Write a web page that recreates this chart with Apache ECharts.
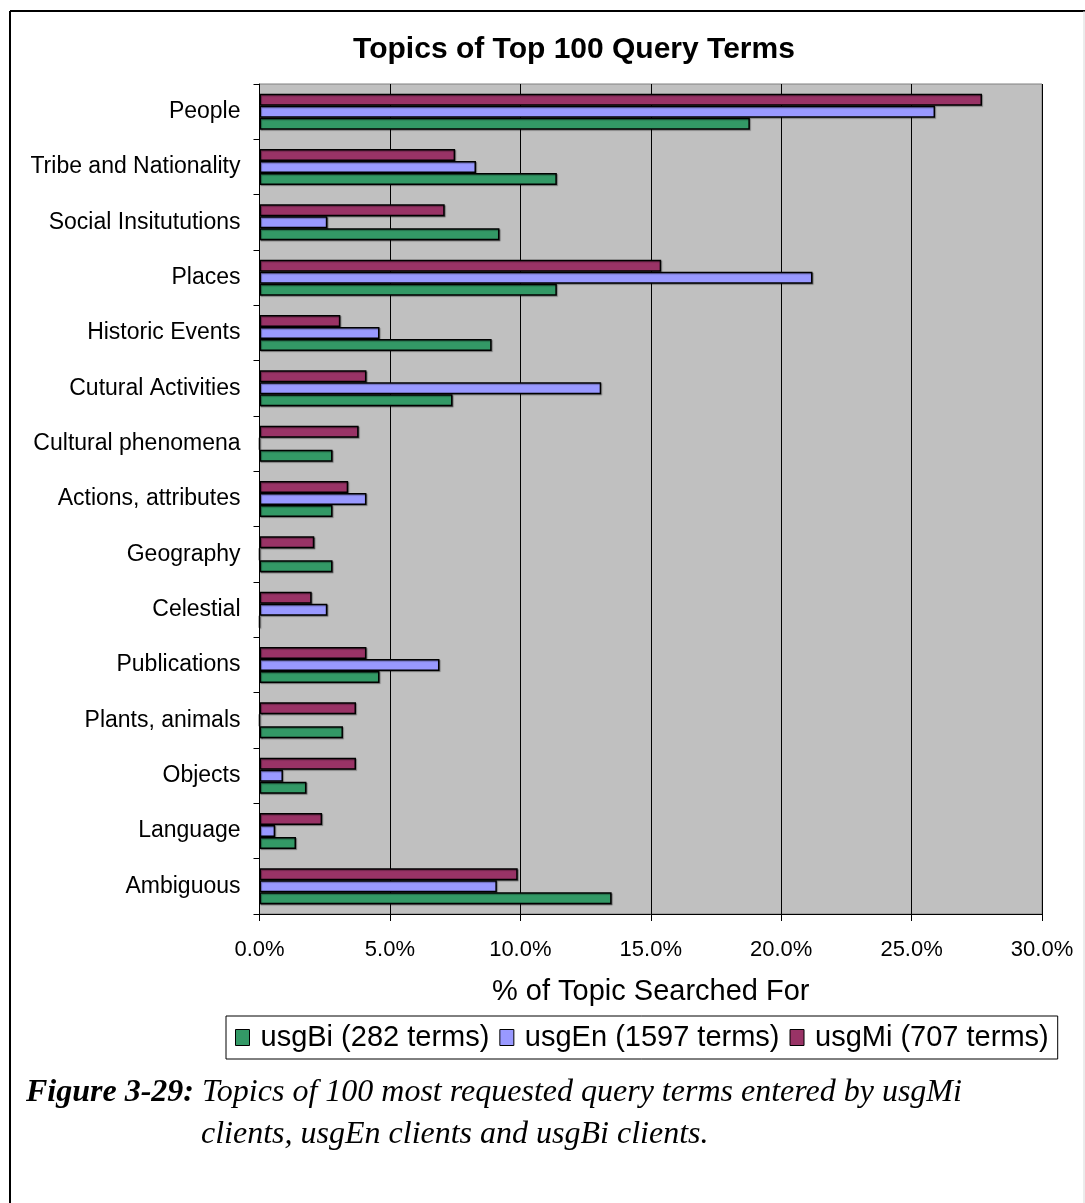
<!DOCTYPE html>
<html>
<head>
<meta charset="utf-8">
<title>Topics of Top 100 Query Terms</title>
<script src="https://cdn.jsdelivr.net/npm/echarts@6/dist/echarts.min.js"></script>
<style>
  html, body { margin: 0; padding: 0; background: #ffffff; }
  #main { width: 1085px; height: 1203px; }
</style>
</head>
<body>
<div id="main"></div>
<script>
// categories top to bottom, as in the figure
var topics = ['People', 'Tribe and Nationality', 'Social Insitututions', 'Places', 'Historic Events',
  'Cutural Activities', 'Cultural phenomena', 'Actions, attributes', 'Geography', 'Celestial',
  'Publications', 'Plants, animals', 'Objects', 'Language', 'Ambiguous'];

// % of topic searched for
var usgMi = [27.7, 7.5, 7.1, 15.4, 3.1, 4.1, 3.8, 3.4, 2.1, 2.0, 4.1, 3.7, 3.7, 2.4, 9.9];
var usgEn = [25.9, 8.3, 2.6, 21.2, 4.6, 13.1, 0, 4.1, 0, 2.6, 6.9, 0, 0.9, 0.6, 9.1];
var usgBi = [18.8, 11.4, 9.2, 11.4, 8.9, 7.4, 2.8, 2.8, 2.8, 0, 4.6, 3.2, 1.8, 1.4, 13.5];

var seriesNames = ['usgBi (282 terms)', 'usgEn (1597 terms)', 'usgMi (707 terms)'];
var xTicks = [0, 5, 10, 15, 20, 25, 30];

var chart = echarts.init(document.getElementById('main'), null, { renderer: 'canvas' });

// y category axis runs bottom -> top, so flip the lists
function rev(arr) {
  return arr.slice().reverse();
}

function barSeries(name, data, color) {
  return {
    name: name,
    type: 'bar',
    data: rev(data),
    barWidth: 12,
    barGap: '0%',
    itemStyle: {
      color: color,
      borderColor: '#000000',
      borderWidth: 1.5,
      shadowColor: 'rgba(0,0,0,0.35)',
      shadowBlur: 1,
      shadowOffsetX: 1,
      shadowOffsetY: 1
    }
  };
}

var font = '"Liberation Sans", Arial, sans-serif';
var serif = '"Liberation Serif", "Times New Roman", serif';

var option = {
  animation: false,
  backgroundColor: '#ffffff',
  title: {
    text: 'Topics of Top 100 Query Terms',
    left: 569,
    top: 30,
    textAlign: 'center',
    textStyle: { fontFamily: font, fontSize: 30, fontWeight: 'bold', color: '#000' }
  },
  grid: {
    left: 259.5,
    right: 43,
    top: 84,
    bottom: 289,
    show: true,
    backgroundColor: '#c0c0c0',
    borderColor: '#808080',
    borderWidth: 1
  },
  legend: {
    data: seriesNames,
    left: 226,
    top: 1016,
    orient: 'horizontal',
    itemWidth: 14,
    itemHeight: 16,
    itemGap: 10,
    padding: [7, 9, 7, 9],
    borderColor: '#000000',
    borderWidth: 1,
    backgroundColor: '#ffffff',
    icon: 'rect',
    itemStyle: { borderColor: '#000', borderWidth: 1 },
    textStyle: { fontFamily: font, fontSize: 29, color: '#000', padding: [0, 0, 0, 6] }
  },
  xAxis: {
    type: 'value',
    min: xTicks[0],
    max: xTicks[xTicks.length - 1],
    interval: 5,
    name: '% of Topic Searched For',
    nameLocation: 'middle',
    nameGap: 63,
    nameTextStyle: { fontFamily: font, fontSize: 29, color: '#000' },
    axisLine: { show: true, lineStyle: { color: '#000', width: 1 } },
    axisTick: { show: true, length: 7, lineStyle: { color: '#000' } },
    axisLabel: {
      margin: 25,
      fontFamily: font,
      fontSize: 22,
      color: '#000',
      formatter: function (v) { return v.toFixed(1) + '%'; }
    },
    splitLine: { show: true, lineStyle: { color: '#000', width: 1 } }
  },
  yAxis: {
    type: 'category',
    data: rev(topics),
    axisLine: { show: true, lineStyle: { color: '#000', width: 1 } },
    axisTick: { show: true, length: 6, lineStyle: { color: '#000' } },
    axisLabel: { margin: 19, fontFamily: font, fontSize: 23, color: '#000' },
    splitLine: { show: false }
  },
  // first series sits at the top of each group here, so Mi goes first
  series: [
    barSeries(seriesNames[2], usgMi, '#993366'),
    barSeries(seriesNames[1], usgEn, '#9999ff'),
    barSeries(seriesNames[0], usgBi, '#339966')
  ],
  graphic: [
    // page frame (left and top edges of the scanned figure box)
    { type: 'line', shape: { x1: 10, y1: 11, x2: 10, y2: 1203 }, style: { stroke: '#000', lineWidth: 2 } },
    { type: 'line', shape: { x1: 10, y1: 11, x2: 1085, y2: 11 }, style: { stroke: '#000', lineWidth: 2 } },
    { type: 'line', shape: { x1: 1084, y1: 11, x2: 1084, y2: 1203 }, style: { stroke: '#d8d8d8', lineWidth: 1 } },
    {
      type: 'text',
      left: 26,
      top: 1077,
      style: {
        text: '{b|Figure 3-29: }{i|Topics of 100 most requested query terms entered by usgMi}',
        rich: {
          b: { fontFamily: serif, fontSize: 32, fontStyle: 'italic', fontWeight: 'bold', fill: '#000' },
          i: { fontFamily: serif, fontSize: 32, fontStyle: 'italic', fill: '#000' }
        }
      }
    },
    {
      type: 'text',
      left: 201,
      top: 1119,
      style: {
        text: 'clients, usgEn clients and usgBi clients.',
        fontFamily: serif,
        fontSize: 32,
        fontStyle: 'italic',
        fill: '#000'
      }
    }
  ]
};

chart.setOption(option);
</script>
</body>
</html>
